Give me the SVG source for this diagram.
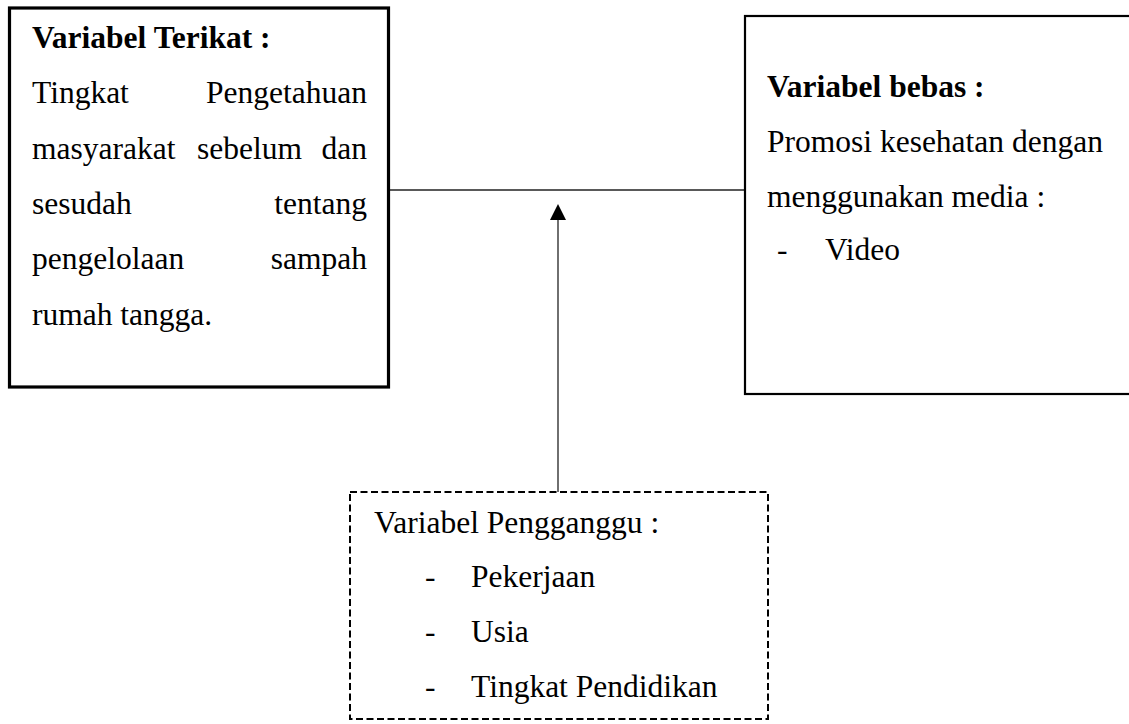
<svg xmlns="http://www.w3.org/2000/svg" width="1129" height="724" viewBox="0 0 1129 724">
<style>
text{font-family:"Liberation Serif","Times New Roman",serif;font-size:31.5px;fill:#000}
.b{font-weight:bold}
.e{text-anchor:end}
.box{fill:#fff;stroke:#000}
</style>
<defs>
<marker id="ah" markerWidth="16" markerHeight="16" refX="8" refY="0" orient="auto" markerUnits="userSpaceOnUse" viewBox="0 0 16 16" overflow="visible">
<path d="M0,16 L8,0 L16,16 Z" fill="#000"/>
</marker>
</defs>
<rect width="1129" height="724" fill="#fff"/>
<g id="connectors">
<line x1="389" y1="190" x2="745" y2="190" stroke="#222" stroke-width="1.3"/>
<line x1="558" y1="492" x2="558" y2="219" stroke="#222" stroke-width="1.3"/>
<path d="M558,204 L550,220 L566,220 Z" fill="#000"/>
</g>
<g id="node-terikat">
<rect class="box" x="9.5" y="8" width="379" height="379" stroke-width="3.2"/>
<text class="b" x="32" y="48">Variabel Terikat :</text>
<text x="32" y="103">Tingkat</text>
<text class="e" x="367" y="103">Pengetahuan</text>
<text x="32" y="159">masyarakat</text>
<text x="197" y="159">sebelum</text>
<text class="e" x="367" y="159">dan</text>
<text x="32" y="214">sesudah</text>
<text class="e" x="367" y="214">tentang</text>
<text x="32" y="269">pengelolaan</text>
<text class="e" x="367" y="269">sampah</text>
<text x="32" y="325">rumah tangga.</text>
</g>
<g id="node-bebas">
<rect class="box" x="745" y="16" width="400" height="378" stroke-width="2.2"/>
<text class="b" x="767" y="97">Variabel bebas :</text>
<text x="767" y="152">Promosi kesehatan dengan</text>
<text x="767" y="207">menggunakan media :</text>
<text x="777" y="260">-</text>
<text x="825" y="260">Video</text>
</g>
<g id="node-pengganggu">
<rect class="box" x="350" y="492" width="418" height="227" stroke-width="2" stroke-dasharray="7 3.5" fill="none"/>
<text x="374" y="533">Variabel Pengganggu :</text>
<text x="425" y="587">-</text>
<text x="471" y="587">Pekerjaan</text>
<text x="425" y="642">-</text>
<text x="471" y="642">Usia</text>
<text x="425" y="697">-</text>
<text x="471" y="697">Tingkat Pendidikan</text>
</g>
</svg>
